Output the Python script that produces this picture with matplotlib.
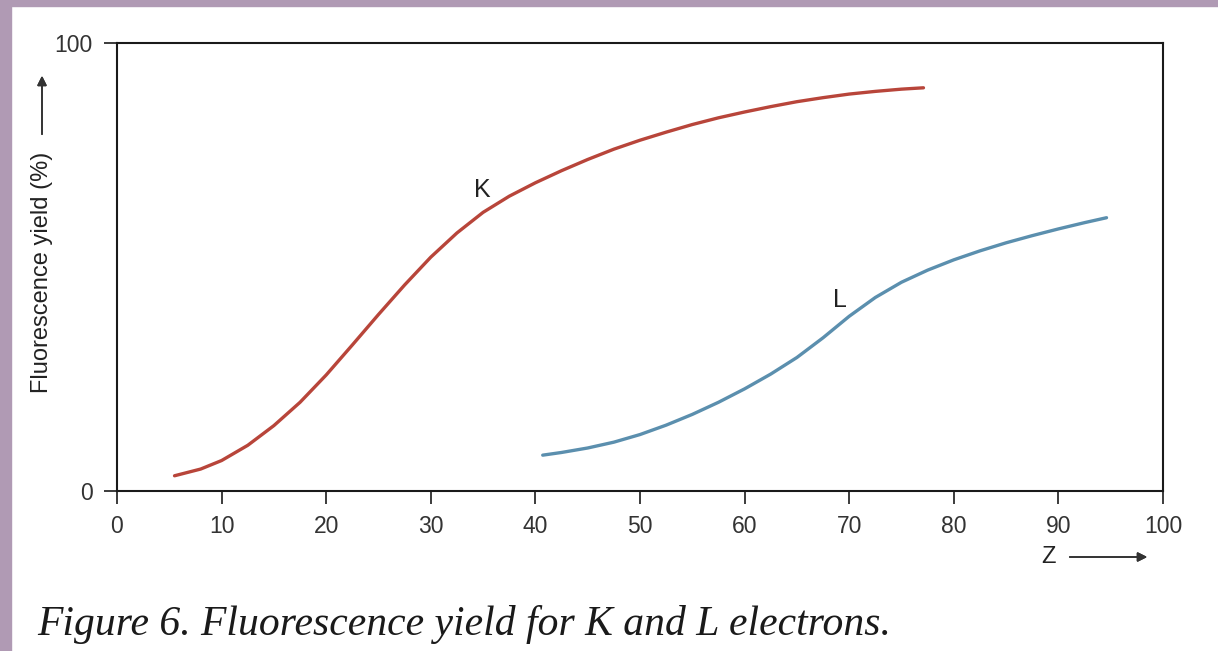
import matplotlib
matplotlib.use("Agg")
import matplotlib.pyplot as plt
from matplotlib.patches import Rectangle

# K shell fluorescence yield
k_z = [5.5, 8, 10, 12.5, 15, 17.5, 20, 22.5, 25, 27.5, 30, 32.5, 35, 37.5, 40,
       42.5, 45, 47.5, 50, 52.5, 55, 57.5, 60, 62.5, 65, 67.5, 70, 72.5, 75, 77.1]
k_y = [3.4, 4.9, 6.8, 10.2, 14.6, 19.8, 25.9, 32.6, 39.4, 46.0, 52.2, 57.6, 62.2,
       65.8, 68.8, 71.5, 74.0, 76.3, 78.3, 80.1, 81.8, 83.3, 84.6, 85.8, 86.9,
       87.8, 88.6, 89.2, 89.7, 90.0]

# L shell fluorescence yield
l_z = [40.7, 42.5, 45, 47.5, 50, 52.5, 55, 57.5, 60, 62.5, 65, 67.5, 70, 72.5,
       75, 77.5, 80, 82.5, 85, 87.5, 90, 92.5, 94.6]
l_y = [8.0, 8.6, 9.6, 10.9, 12.6, 14.7, 17.1, 19.8, 22.8, 26.1, 29.8, 34.2, 39.0,
       43.2, 46.6, 49.3, 51.6, 53.6, 55.4, 57.0, 58.5, 59.9, 61.0]

x_ticks = list(range(0, 101, 10))
y_ticks = [0, 100]

W, H = 1218, 651
fig = plt.figure(figsize=(W / 100, H / 100), dpi=100)
fig.patch.set_facecolor("white")

# purple page border
purple = "#b09ab4"
fig.patches.append(Rectangle((0, 1 - 6 / H), 1, 6 / H, transform=fig.transFigure,
                             color=purple, zorder=0))
fig.patches.append(Rectangle((0, 0), 11 / W, 1, transform=fig.transFigure,
                             color=purple, zorder=0))

ax = fig.add_axes([117 / W, (H - 491) / H, (1163 - 117) / W, (491 - 43) / H])
ax.set_xlim(0, 100)
ax.set_ylim(0, 100)

ax.plot(k_z, k_y, color="#b8453a", lw=2.4, solid_capstyle="round",
        solid_joinstyle="round")
ax.plot(l_z, l_y, color="#5b8fae", lw=2.4, solid_capstyle="round",
        solid_joinstyle="round")

ax.text(34.9, 67.2, "K", fontsize=18, family="Liberation Sans", color="#222",
        ha="center", va="center")
ax.text(69.1, 42.6, "L", fontsize=18, family="Liberation Sans", color="#222",
        ha="center", va="center")

ax.set_xticks(x_ticks)
ax.set_yticks(y_ticks)
for s in ax.spines.values():
    s.set_linewidth(1.5)
    s.set_color("#1a1a1a")
ax.tick_params(direction="out", length=9.5, width=1.2, color="#1a1a1a",
               labelsize=16.5, labelcolor="#333333", pad=8)
for lab in ax.get_xticklabels() + ax.get_yticklabels():
    lab.set_family("Liberation Sans")

# axis titles with arrows
fig.text(42 / W, 1 - 272 / H, "Fluorescence yield (%)", rotation=90,
         fontsize=17, family="Liberation Sans", color="#222",
         ha="center", va="center")
fig.add_artist(plt.annotate("", xy=(42 / W, 1 - 73 / H), xytext=(42 / W, 1 - 137 / H),
                            xycoords="figure fraction", textcoords="figure fraction",
                            arrowprops=dict(arrowstyle="-|>", color="#333", lw=1.2,
                                            mutation_scale=14)))
fig.text(1049 / W, 1 - 557 / H, "Z", fontsize=17, family="Liberation Sans",
         color="#222", ha="center", va="center")
fig.add_artist(plt.annotate("", xy=(1150 / W, 1 - 557 / H), xytext=(1067 / W, 1 - 557 / H),
                            xycoords="figure fraction", textcoords="figure fraction",
                            arrowprops=dict(arrowstyle="-|>", color="#333", lw=1.2,
                                            mutation_scale=14)))

fig.text(37 / W, 1 - 635 / H, "Figure 6. Fluorescence yield for K and L electrons.",
         fontsize=30, family="Liberation Serif", style="italic", color="#1a1a1a",
         ha="left", va="baseline")

fig.savefig("out.png", dpi=100)
